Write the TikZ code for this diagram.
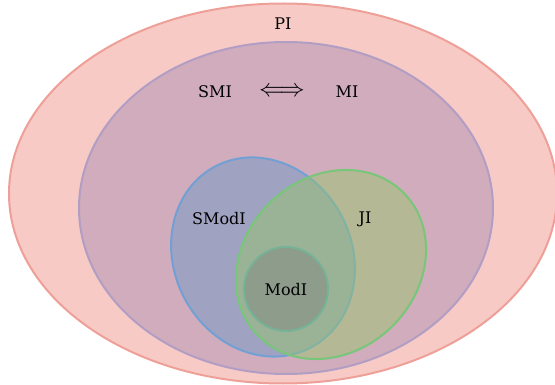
\documentclass[tikz,border=0pt]{standalone}
\usepackage{fontspec}
\setmainfont{DejaVu Serif}
\usepackage{tikz}
\usetikzlibrary{positioning}
\definecolor{PiFill}{RGB}{247,202,197}
\definecolor{PiLine}{RGB}{238,160,152}
\definecolor{MiFill}{RGB}{208,172,188}
\definecolor{MiLine}{RGB}{178,158,196}
\definecolor{SmodFill}{RGB}{100,150,200}
\definecolor{SmodLine}{RGB}{115,160,212}
\definecolor{JiFill}{RGB}{150,200,100}
\definecolor{JiLine}{RGB}{120,198,122}
\definecolor{ModFill}{RGB}{128,128,128}
\definecolor{ModLine}{RGB}{118,178,150}
\tikzset{
  region/.style={draw=#1, line width=2pt},
  tag/.style={font=\fontsize{16}{18}\selectfont, inner sep=1pt}
}

\begin{document}
\begin{tikzpicture}[x=1pt,y=-1pt]
\useasboundingbox (0,0) rectangle (555,385);
% the sets
\draw[region=PiLine, fill=PiFill] (283,193.5) ellipse [x radius=274, y radius=190];
\draw[region=MiLine, fill=MiFill] (286,208) ellipse [x radius=207, y radius=166];
\draw[region=SmodLine, fill=SmodFill, fill opacity=.45]
     (263,257) ellipse [x radius=88.7, y radius=102.4, rotate=28];
\draw[region=JiLine, fill=JiFill, fill opacity=.45]
     (331,264.5) ellipse [x radius=102, y radius=87, rotate=44];
\draw[region=ModLine, fill=ModFill, fill opacity=.45]
     (286,289) circle [radius=42];
% the labels
\node[tag] (pi)   at (283,24)  {PI};
\node[tag] (smi)  at (215,92)  {SMI};
\node[tag, font=\fontsize{24}{26}\selectfont] (iff) at (282,92) {$\Longleftrightarrow$};
\node[tag] (mi)   at (347,92)  {MI};
\node[tag] (smod) at (219,219) {SModI};
\node[tag] (ji)   at (365,219) {JI};
\node[tag] (mod)  at (286,290) {ModI};
\end{tikzpicture}
\end{document}
